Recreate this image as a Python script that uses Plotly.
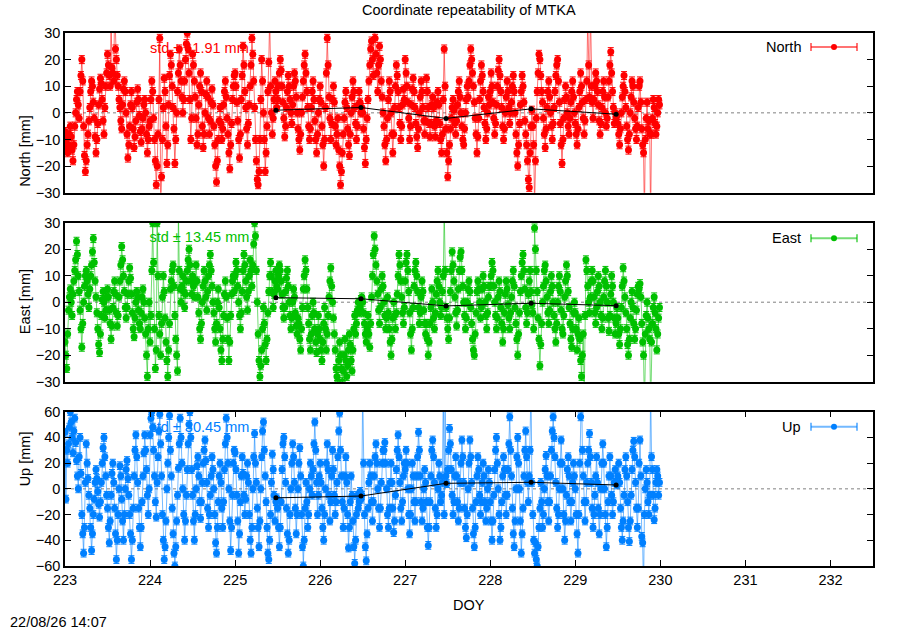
import plotly.graph_objects as go

# ---------------- data (15-min epochs, DOY 223.0 .. 230.0) ----------------
start_doy = 223.0
samples_per_day = 96

north = [
    -7,-10,-13,-15,-12,-8,-5,-9,-14,-18,-12,-5,0,5,8,3,-2,8,14,20,12,-5,-16,-22,
    -18,-12,-8,-3,2,8,12,10,4,-2,-9,-15,-10,-4,3,9,13,11,5,-3,-8,2,10,15,
    22,18,14,10,36,17,15,12,40,24,20,14,10,5,2,-3,-6,3,9,12,8,0,-8,-17,
    -12,-5,3,8,2,-6,-13,-9,-3,4,9,5,-1,-7,-11,-6,-2,3,5,0,-8,-15,-10,-5,
    -3,5,12,8,-2,-10,-18,-27,-20,-8,5,28,-35,-24,-10,2,13,8,-5,-19,-12,3,14,22,
    18,10,2,-6,-19,-10,0,8,15,24,18,12,6,0,5,12,20,26,30,24,15,5,-10,-2,
    22,18,12,6,-2,-12,-8,3,10,15,8,-5,-13,-8,0,7,12,6,-2,-8,-3,4,9,3,
    -5,-12,-20,-26,-18,-10,-3,2,-4,-10,-6,3,8,12,6,-2,-8,-15,-21,-12,-4,5,10,14,
    15,10,4,-3,-10,-17,-8,5,14,25,18,8,2,-6,-12,-4,3,10,18,28,22,12,2,-10,
    -18,-25,-27,-22,-10,5,20,12,0,-10,-22,-15,-5,8,19,36,10,0,-8,-2,5,12,8,2,
    5,10,15,20,16,10,4,-2,-9,-5,2,8,14,10,5,0,-4,3,10,15,12,6,0,-6,
    -10,-14,-8,0,6,12,18,22,15,8,2,-5,-10,-6,2,8,12,5,-3,-10,-15,-8,0,5,
    10,4,-5,-12,-20,-10,2,15,28,18,6,-2,-10,-4,5,10,4,-5,-12,-8,-2,-14,-20,-27,
    -22,-15,-8,-2,4,8,2,-6,-12,-16,-8,0,6,12,8,2,-4,-10,-5,3,8,4,0,2,
    0,-6,-13,-19,-10,-2,5,12,18,24,27,20,14,36,28,22,15,8,18,25,20,12,6,0,
    -5,-12,-18,-10,-2,5,12,8,0,-8,-15,-8,2,10,18,14,8,2,-4,-10,-5,3,9,5,
    20,15,10,4,-2,-10,-5,3,9,13,8,2,-4,-9,-13,-6,0,6,12,8,2,-3,-8,-3,
    13,8,2,-4,-9,-4,3,6,2,-5,-9,-3,4,8,3,-4,-10,-15,-8,5,24,10,-6,-15,
    -24,-18,-12,-6,-2,2,5,1,-4,-8,-3,3,8,12,6,0,-5,-10,-12,-6,0,5,10,6,
    12,18,24,20,15,10,4,-2,-8,-15,-9,-2,5,12,18,14,8,2,-4,-10,-6,0,6,3,
    8,15,10,4,-2,-8,-4,3,10,16,20,14,8,2,-5,-10,-6,0,6,12,8,2,-4,0,
    4,10,14,8,0,-8,-15,-20,-12,-4,3,8,14,10,4,-3,-8,-12,-18,-25,-28,-15,-5,1,
    -5,-12,-35,-18,-2,8,15,22,20,14,8,4,-2,-8,-13,-6,2,8,12,6,0,-5,-10,-4,
    2,8,14,18,20,12,4,-4,-12,-19,-10,-2,5,10,6,0,-5,-8,-2,4,8,12,6,0,
    -4,-8,-12,-6,2,8,15,10,4,-2,-8,-3,5,12,36,18,6,40,10,4,-2,5,10,15,
    12,8,3,-3,-8,-4,2,8,12,6,0,-5,-2,6,12,18,23,15,8,2,-4,0,-2,-1,
    -4,-8,-12,-6,0,6,10,14,8,2,-5,-10,-14,-8,0,6,12,10,4,-2,-6,-10,-5,2,
    10,12,4,-6,-12,-15,-40,-10,-2,4,-6,-3,-8,-40,-8,-2,5,2,-4,-8,-5,0,5,3,
]

east = [
    -15,-20,-25,-12,-3,2,5,0,-5,3,8,12,16,23,18,10,4,-3,-10,-17,-8,0,6,10,
    12,8,3,-2,5,10,14,19,24,15,8,2,-4,-10,-16,-19,-12,-5,1,4,0,-6,-3,2,
    5,2,-3,-8,-14,-9,-2,4,8,3,-4,-9,-5,2,8,14,21,16,10,4,-2,-6,-2,3,
    8,13,9,3,-4,-10,-13,-6,0,4,2,-3,-8,-10,-4,2,5,0,-6,-12,-20,-28,-10,0,
    -15,-5,12,30,15,-10,-25,-18,30,10,-5,-12,-20,-8,2,10,4,-6,-15,-22,-28,-18,-8,5,
    8,12,14,6,-5,-14,-20,-26,35,12,5,0,6,10,4,-2,3,8,12,16,20,14,8,3,
    10,6,2,8,14,8,2,-4,-10,-14,-8,0,6,12,8,2,-3,4,10,14,18,12,6,0,
    -4,-10,-15,-8,0,5,-2,-10,-18,-22,-14,-5,3,8,2,-6,-14,-22,-15,-5,3,8,10,4,
    10,15,12,6,0,-5,-10,-4,4,12,18,14,8,2,-3,4,10,16,12,6,14,22,30,25,
    12,0,-12,-22,-28,-24,-18,-10,-2,-8,-16,-22,-14,-4,4,10,15,10,4,-2,3,8,12,6,
    5,10,14,12,8,3,-2,-6,-2,4,9,12,6,0,-5,-10,-6,0,5,2,-4,-9,-12,-6,
    -8,-14,-18,-10,-2,5,10,16,12,5,-2,-8,-14,-18,-12,-5,0,-4,-10,-15,-19,-12,-5,-10,
    -14,-18,-22,-15,-8,-2,-10,-18,-12,-5,2,8,13,6,0,-6,-12,-18,-25,-28,-30,-22,-15,-20,
    -25,-30,-26,-20,-14,-22,-28,-24,-18,-12,-16,-22,-26,-18,-10,-5,-12,-8,-3,0,-4,-2,1,2,
    0,-4,-8,-12,-15,-10,-5,-12,-17,-8,2,10,18,25,20,14,8,3,-3,-8,-2,5,10,6,
    0,-5,-10,-6,2,-4,-10,-15,-20,-14,-6,0,-5,-10,-4,3,10,18,14,8,2,-4,-8,-2,
    8,15,18,12,4,-4,-12,-18,-10,-2,6,12,15,10,4,-2,-8,-4,2,8,4,-3,-8,-12,
    -8,-14,-20,-15,-8,-2,5,0,-6,-10,-4,3,8,12,6,0,-5,-2,4,10,35,12,-2,-6,
    -10,-14,-6,4,12,19,14,8,2,-4,-9,-3,5,12,17,19,12,6,0,-5,-10,-6,0,5,
    8,4,-2,-8,-14,-18,-20,-12,-4,4,8,5,0,-6,-2,5,10,6,0,-5,-10,-4,2,6,
    6,10,15,12,6,0,-5,-10,-6,2,8,4,-2,-8,-15,-10,-4,3,8,5,-1,-6,-10,-4,
    2,8,12,6,-2,-8,-14,-20,-12,-4,4,10,15,18,12,5,-2,-8,-4,3,8,12,4,-1,
    -4,-10,28,20,12,4,-6,-14,-24,-16,-8,0,6,12,14,8,2,-4,-8,-3,4,10,6,0,
    -5,-10,-15,-8,0,6,10,4,-3,-10,-12,-5,2,8,14,10,4,-2,-8,-14,-17,-10,-4,0,
    -4,-10,-18,-12,-6,-14,-22,-28,-20,-12,-38,-5,16,12,6,0,-4,2,8,12,8,2,-4,-8,
    -2,4,10,6,0,-5,-10,-6,2,8,12,6,0,-6,-11,-5,3,10,6,0,-6,-12,-8,-2,
    -6,-12,-16,-10,-2,6,13,8,2,-4,-10,-16,-20,-14,-6,0,4,-2,-8,-14,-10,-3,3,6,
    5,7,2,-8,-15,-20,-40,-12,-5,0,-6,-10,-14,-40,-15,-8,-2,2,-4,-10,-18,-12,-6,-2,
]

up = [
    44,-8,30,20,35,48,60,52,40,28,45,55,36,22,10,0,25,40,12,-20,-35,-50,-30,5,
    35,20,8,-5,-15,-30,-48,-35,-20,-8,5,15,8,-2,-12,-22,-10,5,20,32,40,25,10,-5,
    -15,-30,-42,-25,-5,12,20,5,-15,-35,-55,-40,-20,0,18,10,-8,-25,-40,-20,0,15,22,8,
    -5,-20,-35,-55,-40,-15,10,30,42,25,5,-15,-30,-45,-30,-10,10,28,42,30,15,-5,-20,0,
    42,55,60,48,30,10,-10,-22,5,25,45,58,35,10,-20,-40,-55,-45,-25,0,20,40,57,30,
    10,-15,-35,-50,-60,-45,-25,-5,16,35,55,40,20,0,-20,-40,-25,-5,15,35,50,60,40,15,
    -5,-25,-40,-20,0,18,25,10,-10,-23,-10,5,20,30,38,22,5,-15,-30,-20,-5,10,25,15,
    0,-20,-42,-50,-30,-10,10,20,5,-15,-30,-10,15,35,55,40,20,0,-25,-48,-30,-5,20,30,
    28,15,-5,-25,-50,-35,-10,10,25,12,-5,-20,-8,10,20,5,-20,-40,-50,-30,0,25,43,20,
    5,-15,-30,-45,-25,0,25,45,52,30,10,-10,-30,-50,-55,-40,-20,5,27,15,-5,-25,-10,-7,
    -15,-30,-45,-30,-10,15,35,40,25,5,-15,-35,-50,-40,-20,0,20,35,25,5,-15,-35,-20,0,
    20,32,10,-20,-45,-60,-40,-15,5,-10,-30,-20,0,20,10,-5,15,35,52,30,5,-20,-5,10,
    20,5,-15,-30,-40,-20,0,20,35,15,-5,-25,-10,10,30,15,-5,-20,-10,5,25,45,59,30,
    10,-10,-30,-15,10,25,5,-20,-46,-30,-10,10,-5,-25,-45,-58,-40,-20,-5,-15,-10,-2,-8,-5,
    80,20,-20,-45,-56,-35,-15,5,20,10,-10,-25,-10,10,25,35,20,0,-15,-30,-15,5,20,30,
    30,36,20,0,-20,-30,-15,5,20,5,-15,-34,-25,-5,15,30,42,25,5,-15,-25,-10,10,20,
    15,30,20,0,-20,-35,-20,0,20,10,-10,-25,-10,10,25,44,30,10,-10,-25,-15,0,15,5,
    -10,-30,-44,-30,-10,10,30,38,25,5,-15,-30,-20,0,20,10,-10,-5,5,80,-20,70,10,4,
    15,30,47,35,15,-5,-20,-10,10,25,10,-10,-25,-15,5,20,38,25,5,-15,-30,-38,-20,0,
    20,38,25,5,-15,-35,-45,-30,-10,10,25,15,-5,-20,-10,5,20,10,-10,-25,-15,0,15,5,
    -10,-25,-40,-25,-5,15,30,40,20,0,-20,-40,-30,-10,10,25,15,-5,-20,-5,15,35,56,30,
    10,-15,-35,-45,-25,0,25,40,20,0,-25,-50,-35,-15,10,30,45,25,5,-10,10,30,80,5,
    -20,-40,-50,-42,-55,-60,-45,-30,-15,5,-10,-30,-20,0,15,26,10,-10,-25,-10,10,30,45,56,
    40,25,5,-15,-30,-20,0,20,38,20,0,-20,-40,-25,-5,15,25,10,-10,-25,-10,5,20,10,
    0,-20,-35,-50,-20,20,56,80,30,10,-10,-25,-10,5,20,30,43,25,5,-15,-30,-20,-5,10,
    25,5,-15,-35,-20,0,20,35,20,0,-20,-45,-30,-10,10,25,10,-5,-20,-10,5,15,5,3,
    10,20,5,-15,-30,-40,-25,-5,15,25,10,-10,-30,-41,-25,-5,15,30,37,25,5,-15,-30,-15,
    20,38,10,-37,-42,-80,-20,0,15,5,-10,-20,-5,80,25,15,-5,-24,-15,5,15,10,-5,5,
]

doy = [start_doy + i / samples_per_day for i in range(len(north))]

err_north = [1.5] * len(north)
err_east = [1.5] * len(east)
err_up = [3.0] * len(up)

mean_doy = [225.48, 226.48, 227.48, 228.48, 229.48]
mean_north = [1.0, 2.0, -2.1, 1.5, -0.5]
mean_east = [1.7, 1.3, -1.4, -0.4, -1.3]
mean_up = [-7.0, -5.6, 4.3, 5.1, 3.0]

components = ["North", "East", "Up"]
std_text = ["std \u00b1 11.91 mm", "std \u00b1 13.45 mm", "std \u00b1 30.45 mm"]
y_ranges = [[-30, 30], [-30, 30], [-60, 60]]
y_dticks = [10, 10, 20]
std_y = [24, 24.2, 47.3]
x_ticks = [223, 224, 225, 226, 227, 228, 229, 230, 231, 232]

title = "Coordinate repeatability of MTKA"
timestamp = "22/08/26 14:07"

# ---------------- style ----------------
colors = ["#ff0000", "#00c000", "#0080ff"]
line_colors = ["rgba(255,0,0,0.55)", "rgba(0,192,0,0.55)", "rgba(0,128,255,0.55)"]
FONT = "Liberation Sans, Arial, sans-serif"
FS = 14.5

series = [north, east, up]
errs = [err_north, err_east, err_up]
means = [mean_north, mean_east, mean_up]

fig = go.Figure()

# panel geometry in pixels (900x630 canvas)
L, R, T, B = 65, 873, 33, 566
W, H = R - L, B - T
panel_px = [(33.0, 192.7), (222.7, 381.7), (411.7, 566.0)]


def py(px):
    return 1 - (px - T) / H


def pxx(px):
    return (px - L) / W


for k in range(3):
    suffix = "" if k == 0 else str(k + 1)
    xa = "x" + suffix
    ya = "y" + suffix
    # std label (drawn first so data covers it)
    fig.add_trace(go.Scatter(
        x=[224.58], y=[std_y[k]], mode="text", text=[std_text[k]],
        textfont=dict(color=colors[k], size=FS, family=FONT),
        xaxis=xa, yaxis=ya, showlegend=False, hoverinfo="skip"))
    fig.add_trace(go.Scatter(
        x=doy, y=series[k], mode="lines+markers",
        line=dict(color=line_colors[k], width=1),
        marker=dict(color=colors[k], size=7, symbol="circle"),
        error_y=dict(type="data", array=errs[k], color=colors[k], thickness=1, width=3),
        xaxis=xa, yaxis=ya, showlegend=False, name=components[k]))
    fig.add_trace(go.Scatter(
        x=mean_doy, y=means[k], mode="lines+markers",
        line=dict(color="black", width=1),
        marker=dict(color="black", size=5),
        xaxis=xa, yaxis=ya, showlegend=False))

    top_px, bot_px = panel_px[k]
    dom = [max(0.0, min(1.0, py(bot_px))), max(0.0, min(1.0, py(top_px)))]
    axis_common = dict(showline=True, linecolor="black", linewidth=1.5, mirror=True,
                       showgrid=False, zeroline=False,
                       tickfont=dict(family=FONT, size=FS, color="black"))
    xkw = dict(axis_common, domain=[0, 1], range=[223, 232.5], anchor=ya)
    if k == 2:
        xkw.update(tickvals=x_ticks, ticks="inside", ticklen=6, tickcolor="black",
                   mirror="allticks", showticklabels=True)
    else:
        xkw.update(showticklabels=False, ticks="")
    ykw = dict(axis_common, domain=dom, range=y_ranges[k], dtick=y_dticks[k],
               ticks="inside", ticklen=6, tickcolor="black", mirror="allticks", anchor=xa)
    fig.update_layout(**{"xaxis" + suffix: xkw, "yaxis" + suffix: ykw})

    # dotted zero line
    fig.add_shape(type="line", xref=xa, yref=ya, x0=223, x1=232.5, y0=0, y1=0,
                  line=dict(color="gray", width=1, dash="dot"), layer="below")

    # y-axis title
    fig.add_annotation(text=f"{components[k]} [mm]", xref="paper", yref="paper",
                       x=pxx(15), y=py((top_px + bot_px) / 2), textangle=-90,
                       showarrow=False, font=dict(family=FONT, size=FS, color="black"))

    # legend key
    ly = [47, 238.3, 426.7][k]
    fig.add_annotation(text=components[k], xref="paper", yref="paper",
                       x=pxx(803), y=py(ly), xanchor="right", yanchor="middle",
                       showarrow=False, font=dict(family=FONT, size=FS, color="black"))
    fig.add_shape(type="line", xref="paper", yref="paper", x0=pxx(811), x1=pxx(857),
                  y0=py(ly), y1=py(ly), line=dict(color=line_colors[k], width=2))
    for cx in (811, 857):
        fig.add_shape(type="line", xref="paper", yref="paper", x0=pxx(cx), x1=pxx(cx),
                      y0=py(ly - 4), y1=py(ly + 4), line=dict(color=line_colors[k], width=2))
    fig.add_shape(type="circle", xref="paper", yref="paper",
                  x0=pxx(831), x1=pxx(837), y0=py(ly + 3), y1=py(ly - 3),
                  fillcolor=colors[k], line=dict(color=colors[k], width=0))

fig.add_annotation(text=title, xref="paper", yref="paper", x=pxx(469), y=py(10),
                   xanchor="center", yanchor="middle", showarrow=False,
                   font=dict(family=FONT, size=FS, color="black"))
fig.add_annotation(text="DOY", xref="paper", yref="paper", x=pxx(469), y=py(605),
                   xanchor="center", yanchor="middle", showarrow=False,
                   font=dict(family=FONT, size=FS, color="black"))
fig.add_annotation(text=timestamp, xref="paper", yref="paper", x=pxx(8), y=py(622),
                   xanchor="left", yanchor="middle", showarrow=False,
                   font=dict(family=FONT, size=FS, color="black"))

fig.update_layout(width=900, height=630, margin=dict(l=L, r=900 - R, t=T, b=630 - B),
                  plot_bgcolor="white", paper_bgcolor="white", showlegend=False)

fig.write_html("out.html", config={"displayModeBar": False},
               post_script="document.body.style.margin='0px';")
